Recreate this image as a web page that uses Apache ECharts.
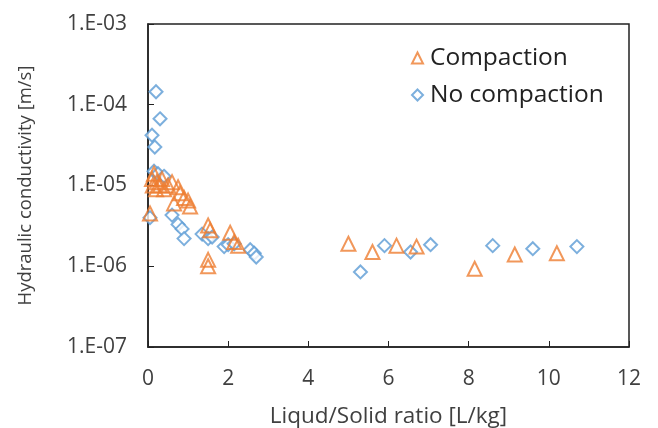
<!DOCTYPE html>
<html>
<head>
<meta charset="utf-8">
<script src="https://cdn.jsdelivr.net/npm/echarts@6/dist/echarts.min.js"></script>
<style>
  html, body { margin: 0; padding: 0; background: #fff; }
  #main { width: 658px; height: 428px; }
</style>
</head>
<body>
<div id="main"></div>
<script>
  // Liquid/Solid ratio [L/kg] and hydraulic conductivity [m/s]
  const compactionX = [0.05, 0.1, 0.12, 0.15, 0.2, 0.22, 0.3, 0.35, 0.4, 0.5, 0.6, 0.65, 0.75, 0.8, 0.9, 1.0, 1.05,
    1.5, 1.55, 1.5, 1.5, 2.05, 2.15, 2.25, 5.0, 5.6, 6.2, 6.7, 8.15, 9.15, 10.2]
  const compactionY = [4.5e-6, 1.2e-5, 1.0e-5, 1.4e-5, 9e-6, 1.1e-5, 1.0e-5, 1.2e-5, 9e-6, 1.0e-5, 1.1e-5, 6e-6, 9.5e-6, 8e-6, 7e-6, 6.5e-6, 5.5e-6,
    3.2e-6, 2.8e-6, 1.2e-6, 1.0e-6, 2.6e-6, 2.0e-6, 1.8e-6, 1.9e-6, 1.5e-6, 1.8e-6, 1.75e-6, 9.3e-7, 1.4e-6, 1.45e-6]

  const noCompactionX = [0.1, 0.2, 0.3, 0.17, 0.15, 0.25, 0.4, 0.05, 0.6, 0.75, 0.85, 0.9, 1.35, 1.5, 1.6, 1.9, 2.0, 2.15,
    2.55, 2.65, 2.7, 5.3, 5.9, 6.55, 7.05, 8.6, 9.6, 10.7]
  const noCompactionY = [4.2e-5, 1.45e-4, 6.7e-5, 3.0e-5, 1.5e-5, 1.4e-5, 1.3e-5, 4e-6, 4.3e-6, 3.3e-6, 2.9e-6, 2.2e-6, 2.5e-6, 2.2e-6, 2.3e-6, 1.75e-6, 1.85e-6, 1.9e-6,
    1.6e-6, 1.45e-6, 1.3e-6, 8.5e-7, 1.8e-6, 1.5e-6, 1.85e-6, 1.8e-6, 1.65e-6, 1.75e-6]

  const seriesNames = ['Compaction', 'No compaction']

  function pairs(xs, ys) {
    return xs.map((x, i) => [x, ys[i]])
  }

  const textColor = '#404040'
  const fontFamily = '"Open Sans", Lato, sans-serif'

  const myChart = echarts.init(document.getElementById('main'))
  myChart.setOption({
    animation: false,
    backgroundColor: '#fff',
    textStyle: { fontFamily: fontFamily },
    grid: {
      left: 148,
      right: 29,
      top: 24,
      bottom: 81,
      containLabel: false,
      outerBoundsMode: 'none',
      show: true,
      borderColor: '#222',
      borderWidth: 1.5
    },
    legend: {
      data: seriesNames,
      orient: 'vertical',
      left: 406,
      top: 40,
      itemGap: 11,
      itemWidth: 11,
      itemHeight: 11,
      textStyle: { fontSize: 24.5, lineHeight: 26, color: '#222', fontFamily: fontFamily, padding: [0, 0, 0, 2] }
    },
    xAxis: {
      type: 'value',
      min: 0,
      max: 12,
      interval: 2,
      name: 'Liqud/Solid ratio [L/kg]',
      nameLocation: 'middle',
      nameGap: 58,
      nameTextStyle: { fontSize: 22.5, color: textColor, fontFamily: fontFamily },
      axisLine: { lineStyle: { color: '#222', width: 1.5 } },
      axisTick: { inside: true, length: 6, lineStyle: { color: '#222' } },
      axisLabel: { fontSize: 21, color: textColor, margin: 22 },
      splitLine: { show: false }
    },
    yAxis: {
      type: 'log',
      logBase: 10,
      min: 1e-7,
      max: 1e-3,
      name: 'Hydraulic conductivity [m/s]',
      nameLocation: 'middle',
      nameGap: 113,
      nameTextStyle: { fontSize: 18.5, color: textColor, fontFamily: fontFamily },
      axisLine: { show: true, lineStyle: { color: '#222', width: 1.5 } },
      axisTick: { inside: true, length: 6, lineStyle: { color: '#222' } },
      axisLabel: {
        fontSize: 21,
        color: textColor,
        margin: 21,
        formatter: function (v) {
          const e = Math.round(Math.log10(v))
          const s = String(Math.abs(e)).padStart(2, '0')
          return '1.E' + (e < 0 ? '-' : '+') + s
        }
      },
      splitLine: { show: false },
      minorTick: { show: false }
    },
    series: [
      {
        name: seriesNames[1],
        type: 'scatter',
        symbol: 'diamond',
        symbolSize: 13,
        itemStyle: { color: '#fff', borderColor: '#5B9BD5', borderWidth: 2 },
        data: pairs(noCompactionX, noCompactionY),
        z: 2
      },
      {
        name: seriesNames[0],
        type: 'scatter',
        symbol: 'triangle',
        symbolSize: 14,
        itemStyle: { color: 'rgba(255,255,255,0)', borderColor: '#ED7D31', borderWidth: 2 },
        data: pairs(compactionX, compactionY),
        z: 3
      }
    ]
  })
</script>
</body>
</html>
